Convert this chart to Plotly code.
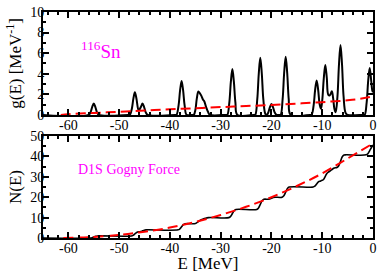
import plotly.graph_objects as go

# ---------------- data ----------------
# top panel: smoothed single-particle level density g(E)
g_E = [-65, -56.0, -55.6, -55.3, -55.0, -54.7, -54.4, -54.0,
       -48.2, -47.9, -47.5, -47.2, -46.9, -46.6, -46.15, -45.7, -45.4, -45.1, -44.8, -44.4,
       -39.0, -38.7, -38.3, -38.0, -37.7, -37.4, -37.1, -36.7,
       -35.6, -35.3, -35.0, -34.7, -34.4, -34.1, -33.8, -33.5, -33.2, -32.9, -32.5, -32.1,
       -29.0, -28.7, -28.3, -28.0, -27.7, -27.4, -27.1, -26.7,
       -23.5, -23.2, -22.8, -22.5, -22.2, -21.9, -21.6, -21.2,
       -20.9, -20.6, -20.3, -20.0, -19.7, -19.4, -19.0,
       -18.5, -18.2, -17.8, -17.5, -17.2, -16.9, -16.6, -16.2,
       -12.4, -12.1, -11.7, -11.4, -11.1, -10.8, -10.5, -10.25, -10.0, -9.7, -9.4, -9.1,
       -8.8, -8.5, -8.1, -7.85, -7.6, -7.35, -7.0, -6.7, -6.4, -6.1, -5.8, -5.4, -5.0,
       -2.0, -1.65, -1.25, -0.95, -0.65, -0.35, -0.15, 0.0]
g_val = [0, 0, 0.3, 0.79, 1.1, 0.79, 0.3, 0,
         0, 0, 0.6, 1.58, 2.2, 1.6, 0.42, 0.8, 1.1, 0.79, 0.3, 0,
         0, 0, 0.9, 2.38, 3.3, 2.38, 0.9, 0,
         0, 0, 0.45, 1.6, 2.27, 2.1, 1.85, 1.5, 1.28, 0.8, 0.3, 0,
         0, 0, 1.2, 3.2, 4.45, 3.2, 1.2, 0,
         0, 0, 1.5, 4.0, 5.55, 4.0, 1.5, 0.1,
         0, 0.28, 0.76, 1.05, 0.76, 0.28, 0,
         0, 0, 1.53, 4.07, 5.65, 4.07, 1.53, 0,
         0, 0, 0.9, 2.42, 3.35, 2.42, 1.0, 0.6, 1.4, 3.5, 4.85, 3.6,
         1.95, 1.9, 2.3, 1.6, 0.6, 0.25, 1.8, 4.9, 6.8, 4.9, 1.84, 0.2, 0,
         0, 0, 1.2, 3.3, 4.55, 3.3, 2.4, 2.2]

# top panel: smooth (semiclassical) level density, red dashed
gs_E = [-61.5, -60, -55, -50, -45, -40, -35, -30, -25, -20, -15, -10, -5, -2.5, 0]
gs_val = [0, 0.07, 0.19, 0.3, 0.42, 0.54, 0.65, 0.76, 0.86, 0.97, 1.1, 1.24, 1.42, 1.56, 1.8]

# bottom panel: cumulative number of levels N(E)
N_E = [-65, -55.7, -55.35, -55.0, -54.65, -54.3,
       -47.6, -47.25, -46.9, -46.55, -46.15, -45.75, -45.4, -45.05, -44.7,
       -38.4, -38.05, -37.7, -37.35, -37.0,
       -35.2, -34.8, -34.4, -34.0, -33.5, -33.0, -32.4,
       -28.4, -28.05, -27.7, -27.35, -27.0,
       -22.9, -22.55, -22.2, -21.85, -21.5,
       -20.7, -20.35, -20.0, -19.65, -19.3,
       -17.9, -17.55, -17.2, -16.85, -16.5,
       -11.8, -11.45, -11.1, -10.75, -10.3, -9.75, -9.4, -9.05, -8.7, -8.4, -8.1, -7.75, -7.4,
       -7.1, -6.75, -6.4, -6.05, -5.7, -5.3,
       -1.35, -1.0, -0.65, -0.3, 0.0]
N_val = [0, 0, 0.15, 0.5, 0.85, 1.0,
         1.0, 1.3, 2.0, 2.7, 3.05, 3.15, 3.5, 3.85, 4.0,
         4.0, 4.45, 5.5, 6.55, 7.0,
         7.0, 7.3, 8.0, 8.7, 9.25, 9.7, 10.0,
         10.0, 10.6, 12.0, 13.4, 14.0,
         14.0, 14.75, 16.5, 18.25, 19.0,
         19.0, 19.15, 19.5, 19.85, 20.0,
         20.0, 20.75, 22.5, 24.25, 25.0,
         25.0, 25.45, 26.5, 27.55, 28.0, 28.7, 30.25, 31.8, 32.5, 33.0, 33.5, 34.2, 34.5,
         34.6, 35.45, 37.65, 39.85, 40.7, 40.8,
         40.8, 41.4, 42.9, 44.4, 45.6]

# bottom panel: smooth N(E), red dashed
Ns_E = [-61, -55, -50, -45, -40, -35, -30, -25, -20, -15, -10, -5, 0]
Ns_val = [0, 0.5, 1.5, 3.1, 5.1, 7.9, 11.3, 15.3, 20.0, 25.5, 31.7, 39.0, 46.4]

# tick labels
x_ticks = [-60, -50, -40, -30, -20, -10, 0]
x_ticktext = ["-60", "-50", "-40", "-30", "-20", "-10", "0"]
g_ticks = [0, 2, 4, 6, 8, 10]
N_ticks = [0, 10, 20, 30, 40, 50]

# ---------------- figure ----------------
FONT = "Liberation Serif, Times New Roman, DejaVu Serif, serif"
fig = go.Figure()
fig.add_trace(go.Scatter(x=g_E, y=g_val, mode="lines", xaxis="x", yaxis="y",
                         line=dict(color="black", width=2, shape="spline", smoothing=1)))
fig.add_trace(go.Scatter(x=gs_E, y=gs_val, mode="lines", xaxis="x", yaxis="y",
                         line=dict(color="#ff0000", width=2, dash="10px,5px", shape="spline")))
fig.add_trace(go.Scatter(x=N_E, y=N_val, mode="lines", xaxis="x2", yaxis="y2",
                         line=dict(color="black", width=1.6, shape="spline", smoothing=1)))
fig.add_trace(go.Scatter(x=Ns_E, y=Ns_val, mode="lines", xaxis="x2", yaxis="y2",
                         line=dict(color="#ff0000", width=2, dash="10px,5px", shape="spline")))

axis_common = dict(showline=True, linewidth=2, linecolor="black", mirror="allticks",
                   ticks="inside", ticklen=6, tickwidth=1.5, tickcolor="black",
                   showgrid=False, zeroline=False, ticklabeloverflow="allow",
                   tickfont=dict(family=FONT, size=14, color="black"))

xcommon = dict(axis_common, range=[-65, 0], tickvals=x_ticks, ticktext=x_ticktext,
               ticklabelstandoff=-4,
               minor=dict(ticks="inside", dtick=2, tick0=0, ticklen=3, tickwidth=1.5,
                          tickcolor="black", showgrid=False))

fig.update_layout(
    width=382, height=273,
    margin=dict(l=43, r=6, t=5, b=33),
    paper_bgcolor="white", plot_bgcolor="white",
    showlegend=False,
    font=dict(family=FONT, color="black"),
    xaxis=dict(xcommon, anchor="y", domain=[0, 1]),
    yaxis=dict(axis_common, anchor="x", domain=[0.5447, 1], range=[0, 10],
               tickvals=g_ticks, ticklabelstandoff=-6,
               minor=dict(ticks="inside", dtick=1, tick0=0, ticklen=3, tickwidth=1.5,
                          tickcolor="black", showgrid=False),
               title=dict(text="g(E) [MeV<sup>-1</sup>]", standoff=4,
                          font=dict(family=FONT, size=17, color="black"))),
    xaxis2=dict(xcommon, anchor="y2", domain=[0, 1],
                title=dict(text="E [MeV]", standoff=0,
                           font=dict(family=FONT, size=17, color="black"))),
    yaxis2=dict(axis_common, anchor="x2", domain=[0, 0.451], range=[0, 50],
                tickvals=N_ticks, ticklabelstandoff=-6,
                minor=dict(ticks="inside", dtick=5, tick0=0, ticklen=3, tickwidth=1.5,
                           tickcolor="black", showgrid=False),
                title=dict(text="N(E)", standoff=4,
                           font=dict(family=FONT, size=17, color="black"))),
    annotations=[
        dict(x=-58.0, y=6.3, xref="x", yref="y", xanchor="left", yanchor="middle",
             text="<sup>116</sup>Sn", showarrow=False,
             font=dict(family=FONT, size=19, color="#ff00ff")),
        dict(x=-48.1, y=33.5, xref="x2", yref="y2", xanchor="center", yanchor="middle",
             text="D1S Gogny Force", showarrow=False,
             font=dict(family=FONT, size=14, color="#ff00ff")),
    ],
)

fig.write_html("out.html", config={"displayModeBar": False},
               post_script="document.body.style.margin='0';")
